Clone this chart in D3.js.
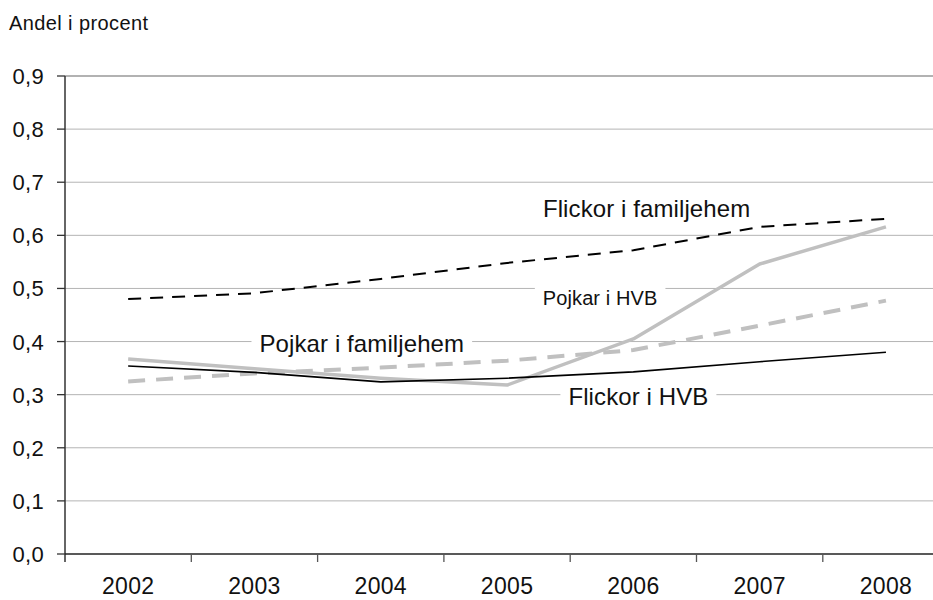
<!DOCTYPE html>
<html>
<head>
<meta charset="utf-8">
<script src="https://cdn.jsdelivr.net/npm/d3@7"></script>
<style>
  body { margin: 0; background: #fff; }
  svg { display: block; font-family: "Liberation Sans", Arial, sans-serif; }
</style>
</head>
<body>
<svg id="chart" width="933" height="600"></svg>
<script>
// data
var years = ["2002", "2003", "2004", "2005", "2006", "2007", "2008"]
var flickorFam = [0.480, 0.491, 0.518, 0.548, 0.572, 0.616, 0.631]
var pojkarFam  = [0.325, 0.340, 0.351, 0.364, 0.384, 0.430, 0.477]
var pojkarHVB  = [0.367, 0.349, 0.331, 0.318, 0.405, 0.546, 0.616]
var flickorHVB = [0.354, 0.342, 0.324, 0.331, 0.343, 0.362, 0.380]
var yTicks = [0, 0.1, 0.2, 0.3, 0.4, 0.5, 0.6, 0.7, 0.8, 0.9]

// label anchors: [text, year index (fraction), value at baseline, font size]
var labelNames = ["Flickor i familjehem", "Pojkar i HVB", "Pojkar i familjehem", "Flickor i HVB"]
var labelIdx   = [4.105, 3.737, 1.85, 4.04]
var labelVal   = [0.6345, 0.469, 0.380, 0.2806]
var labelSize  = [24, 20, 24, 24]

var width = 933, height = 600
var margin = {top: 76, left: 65, bottom: 46}
var band = 126.3

var svg = d3.select("#chart")

var x = d3.scaleBand().domain(years).range([margin.left, margin.left + band * years.length])
var xi = d3.scaleLinear().domain([0, 1]).range([x(years[0]) + band / 2, x(years[1]) + band / 2])
var y = d3.scaleLinear().domain([0, 0.9]).range([height - margin.bottom, margin.top])

// gridlines
svg.append("g").selectAll("line")
  .data(yTicks.slice(1))
  .enter().append("line")
    .attr("x1", margin.left).attr("x2", width)
    .attr("y1", function(d) { return y(d) }).attr("y2", function(d) { return y(d) })
    .attr("stroke", function(d) { return d > 0.85 ? "#999" : "#b4b4b4" })
    .attr("stroke-width", function(d) { return d > 0.85 ? 1.6 : 1 })

// white boxes behind labels
var labels = svg.append("g")
labelNames.forEach(function(t, i) {
  var txt = labels.append("text")
    .attr("x", xi(labelIdx[i]))
    .attr("y", y(labelVal[i]))
    .attr("text-anchor", "middle")
    .attr("font-size", labelSize[i])
    .attr("letter-spacing", 0.1)
    .attr("fill", "#111")
    .text(t)
  var bb = txt.node().getBBox()
  labels.insert("rect", "text")
    .attr("x", bb.x - 8).attr("y", bb.y)
    .attr("width", bb.width + 16).attr("height", bb.height)
    .attr("fill", "#fff")
})

// lines
var line = d3.line()
  .x(function(d, i) { return x(years[i]) + band / 2 })
  .y(function(d) { return y(d) })

var lines = svg.insert("g", "g:last-of-type")
lines.append("path").datum(pojkarFam)
  .attr("fill", "none").attr("stroke", "#c0c0c0").attr("stroke-width", 4)
  .attr("stroke-dasharray", "17,11").attr("d", line)
lines.append("path").datum(pojkarHVB)
  .attr("fill", "none").attr("stroke", "#c0c0c0").attr("stroke-width", 3.5)
  .attr("stroke-linejoin", "round").attr("d", line)
lines.append("path").datum(flickorHVB)
  .attr("fill", "none").attr("stroke", "#000").attr("stroke-width", 1.6)
  .attr("d", line)
lines.append("path").datum(flickorFam)
  .attr("fill", "none").attr("stroke", "#000").attr("stroke-width", 2)
  .attr("stroke-dasharray", "13,9").attr("d", line)

// y axis
var yAxis = svg.append("g")
yAxis.append("line")
  .attr("x1", margin.left).attr("x2", margin.left)
  .attr("y1", y(0.9)).attr("y2", y(0) + 8)
  .attr("stroke", "#333").attr("stroke-width", 1.5)
yAxis.selectAll(".tick").data(yTicks).enter().append("line")
  .attr("x1", margin.left - 8).attr("x2", margin.left)
  .attr("y1", function(d) { return y(d) }).attr("y2", function(d) { return y(d) })
  .attr("stroke", "#333").attr("stroke-width", 1.3)
yAxis.selectAll("text").data(yTicks).enter().append("text")
  .attr("x", 44).attr("y", function(d) { return y(d) + 8 })
  .attr("text-anchor", "end")
  .attr("font-size", 22).attr("letter-spacing", 0.3)
  .attr("fill", "#111")
  .text(function(d) { return d3.format(".1f")(d).replace(".", ",") })

// x axis
var xAxis = svg.append("g")
xAxis.append("line")
  .attr("x1", margin.left).attr("x2", width)
  .attr("y1", y(0)).attr("y2", y(0))
  .attr("stroke", "#222").attr("stroke-width", 1.5)
xAxis.selectAll(".tick").data(years.slice(1)).enter().append("line")
  .attr("x1", function(d) { return x(d) }).attr("x2", function(d) { return x(d) })
  .attr("y1", y(0)).attr("y2", y(0) + 8)
  .attr("stroke", "#555").attr("stroke-width", 1.3)
xAxis.selectAll("text").data(years).enter().append("text")
  .attr("x", function(d) { return x(d) + band / 2 })
  .attr("y", 594)
  .attr("text-anchor", "middle")
  .attr("font-size", 23).attr("letter-spacing", 0.3)
  .attr("fill", "#111")
  .text(function(d) { return d })

// title
svg.append("text")
  .attr("x", 9).attr("y", 30)
  .attr("font-size", 20).attr("letter-spacing", 0.4)
  .attr("fill", "#111")
  .text("Andel i procent")
</script>
</body>
</html>
